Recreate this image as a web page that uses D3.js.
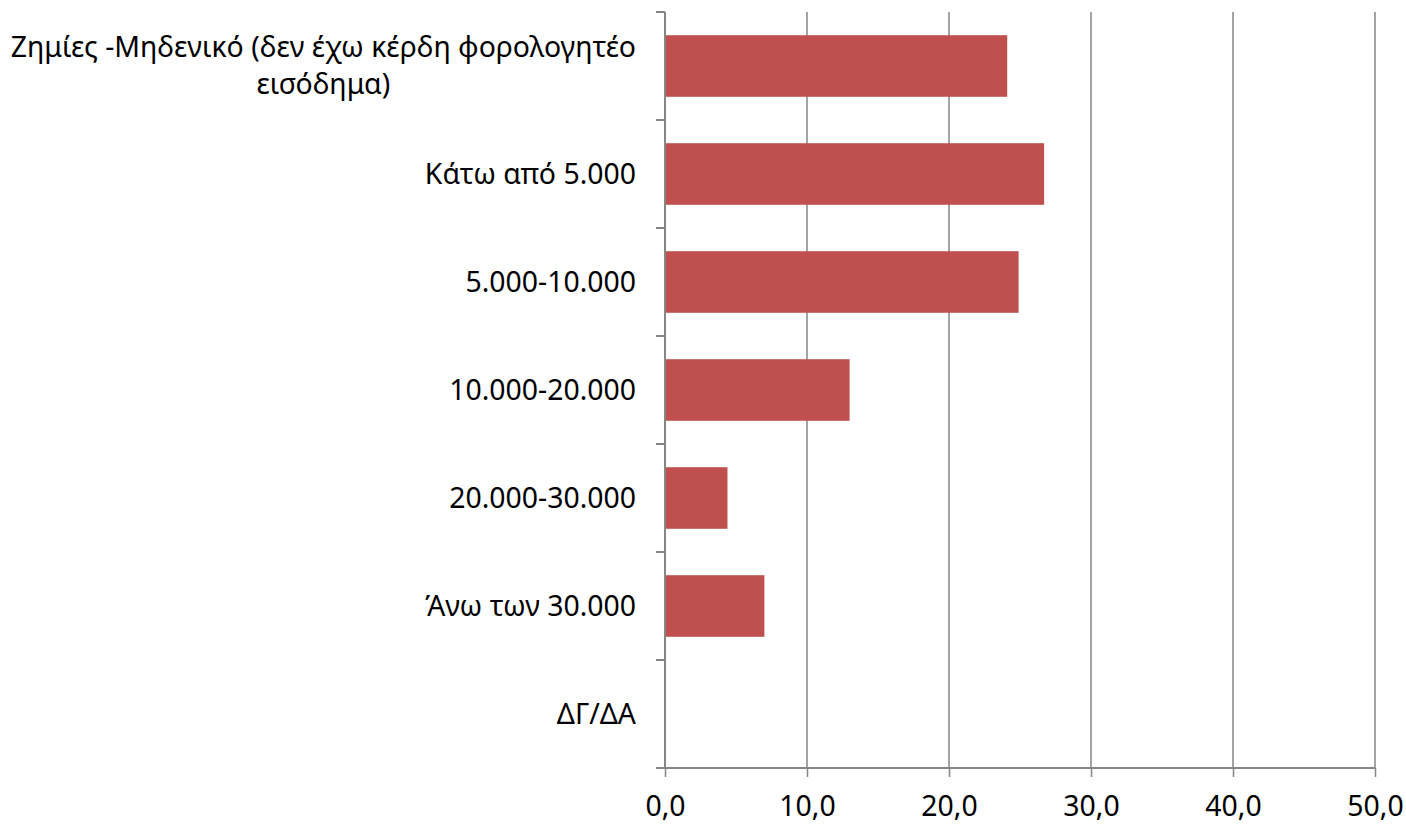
<!DOCTYPE html>
<html>
<head>
<meta charset="utf-8">
<script src="https://cdn.jsdelivr.net/npm/d3@7"></script>
<style>
  body { margin: 0; background: #fff; }
  text { font-family: "Noto Sans", sans-serif; fill: #000; }
</style>
</head>
<body>
<div id="chart"></div>
<script>
// categories (top to bottom), values in %
const categories = [
    "Ζημίες -Μηδενικό (δεν έχω κέρδη φορολογητέο εισόδημα)",
    "Κάτω από 5.000",
    "5.000-10.000",
    "10.000-20.000",
    "20.000-30.000",
    "Άνω των 30.000",
    "ΔΓ/ΔΑ"
];
const values = [24.1, 26.7, 24.9, 13.0, 4.4, 7.0, 0];
const labelLines = [
    ["Ζημίες -Μηδενικό (δεν έχω κέρδη φορολογητέο", "εισόδημα)"],
    ["Κάτω από 5.000"],
    ["5.000-10.000"],
    ["10.000-20.000"],
    ["20.000-30.000"],
    ["Άνω των 30.000"],
    ["ΔΓ/ΔΑ"]
];
const xTicks = [0, 10, 20, 30, 40, 50];

const width = 1406, height = 825;
const margin = {top: 12, right: 31, bottom: 57, left: 665};
const axisColor = "#868686";
const fontSize = 28.4;

const svg = d3.select("#chart").append("svg")
    .attr("width", width)
    .attr("height", height);

const x = d3.scaleLinear()
    .domain([0, 50])
    .range([margin.left, width - margin.right]);

const y = d3.scaleBand()
    .domain(categories)
    .range([margin.top, height - margin.bottom])
    .paddingInner(0.43)
    .paddingOuter(0.215);

// vertical gridlines
svg.append("g")
    .selectAll("line")
    .data(xTicks.slice(1))
    .enter().append("line")
    .attr("x1", d => x(d)).attr("x2", d => x(d))
    .attr("y1", margin.top).attr("y2", height - margin.bottom)
    .attr("stroke", axisColor)
    .attr("stroke-width", 1.5);

// bars
svg.append("g")
    .selectAll("rect")
    .data(values)
    .enter().append("rect")
    .attr("x", x(0))
    .attr("y", (d, i) => y(categories[i]))
    .attr("width", d => x(d) - x(0))
    .attr("height", y.bandwidth())
    .attr("fill", "#C0504D");

// x axis
const xAxis = svg.append("g")
    .attr("transform", `translate(0, ${height - margin.bottom})`)
    .call(d3.axisBottom(x)
        .tickValues(xTicks)
        .tickSize(9)
        .tickPadding(19)
        .tickFormat(d => d3.format(".1f")(d).replace(".", ",")));
xAxis.select(".domain").attr("stroke", axisColor).attr("stroke-width", 2)
    .attr("d", `M${x(0) - 1},0H${x(50)}`);
xAxis.selectAll(".tick line").attr("stroke", axisColor).attr("stroke-width", 1.5);
xAxis.selectAll(".tick text")
    .style("font-family", "Noto Sans, sans-serif")
    .style("font-size", fontSize + "px")
    .attr("fill", "#000");

// y axis: line plus ticks at band boundaries
const step = y.step();
const yBounds = d3.range(categories.length + 1).map(i => margin.top + i * step);
const yAxis = svg.append("g");
yAxis.append("line")
    .attr("x1", x(0)).attr("x2", x(0))
    .attr("y1", margin.top).attr("y2", height - margin.bottom)
    .attr("stroke", axisColor).attr("stroke-width", 2);
yAxis.selectAll(".ytick")
    .data(yBounds)
    .enter().append("line")
    .attr("class", "ytick")
    .attr("x1", x(0) - 9).attr("x2", x(0))
    .attr("y1", d => d).attr("y2", d => d)
    .attr("stroke", axisColor).attr("stroke-width", 2);

// category labels (right-aligned block, lines centred within it)
const labelRight = x(0) - 29;
const lineH = 37;
categories.forEach((c, i) => {
    const lines = labelLines[i];
    const cy = y(c) + y.bandwidth() / 2;
    const g = svg.append("g");
    const texts = lines.map((ln, j) => g.append("text")
        .attr("y", cy + (j - (lines.length - 1) / 2) * lineH)
        .attr("dy", "0.35em")
        .attr("text-anchor", "middle")
        .style("font-size", fontSize + "px")
        .text(ln));
    const maxW = d3.max(texts, t => t.node().getComputedTextLength());
    texts.forEach(t => t.attr("x", labelRight - maxW / 2));
});
</script>
</body>
</html>
